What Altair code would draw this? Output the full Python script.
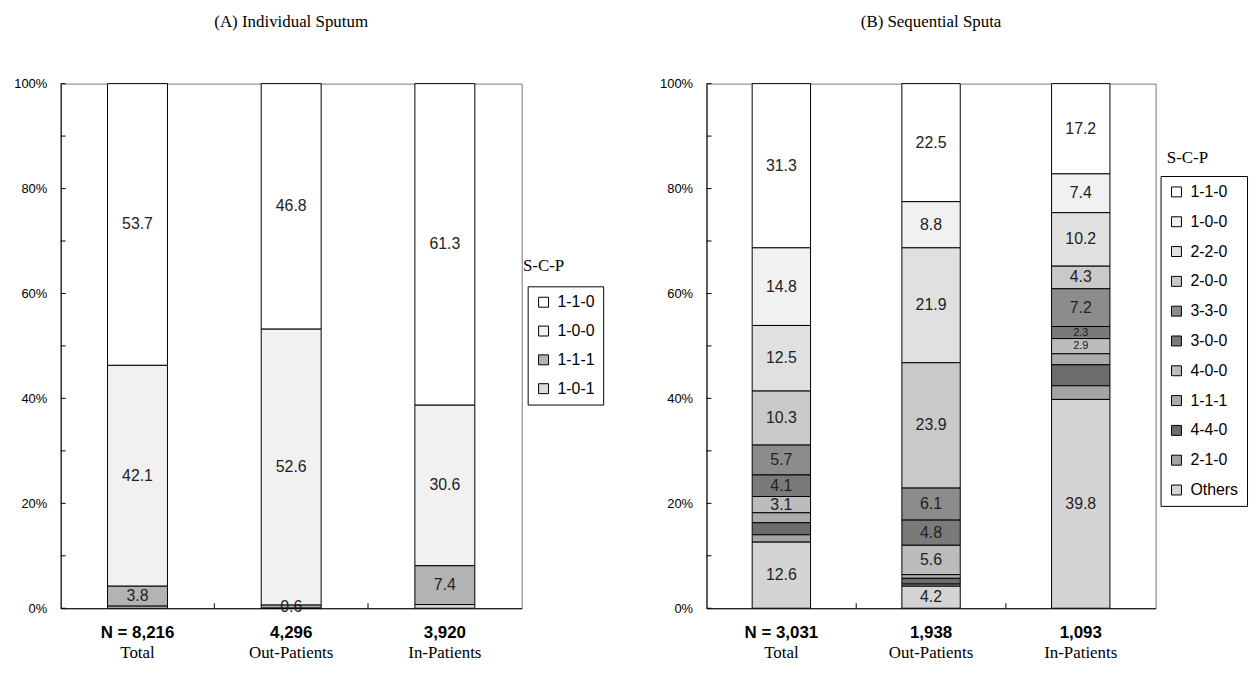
import json
import altair as alt
import pandas as pd

# ---------------- data ----------------
groups = ["Total", "Out-Patients", "In-Patients"]

n_a = ["N = 8,216", "4,296", "3,920"]
n_b = ["N = 3,031", "1,938", "1,093"]

cats_a = ["1-1-0", "1-0-0", "1-1-1", "1-0-1"]
a_total = [53.7, 42.1, 3.8, 0.4]
a_out = [46.8, 52.6, 0.6, 0.0]
a_in = [61.3, 30.6, 7.4, 0.7]

cats_b = ["1-1-0", "1-0-0", "2-2-0", "2-0-0", "3-3-0", "3-0-0",
          "4-0-0", "1-1-1", "4-4-0", "2-1-0", "Others"]
b_total = [31.3, 14.8, 12.5, 10.3, 5.7, 4.1, 3.1, 1.9, 2.3, 1.4, 12.6]
b_out = [22.5, 8.8, 21.9, 23.9, 6.1, 4.8, 5.6, 0.7, 1.1, 0.4, 4.2]
b_in = [17.2, 7.4, 10.2, 4.3, 7.2, 2.3, 2.9, 2.1, 4.0, 2.6, 39.8]

# segments left without a value label
nolabel_a = ["1-0-1"]
nolabel_b = ["1-1-1", "4-4-0", "2-1-0"]

ylabel_vals = [0, 20, 40, 60, 80, 100]
ytick_vals = [0, 10, 20, 30, 40, 50, 60, 70, 80, 90, 100]
legend_title = "S-C-P"

# ---------------- styles ----------------
greys_a = ["#ffffff", "#f1f1f1", "#b3b3b3", "#dcdcdc"]
greys_b = ["#ffffff", "#f1f1f1", "#e0e0e0", "#c9c9c9", "#8c8c8c", "#7a7a7a",
           "#bcbcbc", "#ababab", "#6c6c6c", "#a4a4a4", "#d4d4d4"]

SANS = "Liberation Sans"
SERIF = "Liberation Serif"


def long_table(cats, cols):
    rows = []
    for g, vals in zip(groups, cols):
        for i, (c, v) in enumerate(zip(cats, vals)):
            rows.append({"group": g, "cat": c, "val": v, "ord": i})
    return pd.DataFrame(rows)


def panel(title, cats, greys, cols, n_labels, nolabel, w, h,
          leg_x, leg_y, lt_x, lt_y, row_pad):
    table = long_table(cats, cols)
    xscale = alt.Scale(domain=groups, paddingInner=0, paddingOuter=0)
    yscale = alt.Scale(domain=[0, 100], nice=False, zero=True)
    xaxis = alt.Axis(title=None, labelAngle=0, ticks=False, domainColor="black",
                     labelFont=SERIF, labelFontSize=17, labelColor="black",
                     labelPadding=37, labelBaseline="top")
    yaxis = alt.Axis(title=None, values=ylabel_vals, labelExpr="datum.value + '%'",
                     ticks=False, grid=False, domainColor="black",
                     labelFont=SANS, labelFontSize=13, labelColor="black",
                     labelPadding=14)

    bars = alt.Chart(table).mark_bar(
        width=alt.RelativeBandSize(0.39), stroke="black", strokeWidth=1
    ).encode(
        x=alt.X("group:N", scale=xscale, axis=xaxis),
        y=alt.Y("val:Q", stack="zero", scale=yscale, axis=yaxis),
        color=alt.Color("cat:N", scale=alt.Scale(domain=cats, range=greys),
                        legend=alt.Legend(
                            title=None, orient="none", legendX=leg_x, legendY=leg_y,
                            strokeColor="black", fillColor="white", padding=8,
                            symbolType="square", symbolSize=100,
                            symbolStrokeColor="black", symbolStrokeWidth=1,
                            labelFont=SANS, labelFontSize=16, labelColor="black",
                            labelOffset=6, rowPadding=row_pad)),
        order=alt.Order("ord:Q", sort="descending"),
    )

    labels = alt.Chart(table).transform_stack(
        stack="val", groupby=["group"],
        sort=[alt.SortField("ord", order="descending")], as_=["y0", "y1"]
    ).transform_calculate(
        mid="(datum.y0 + datum.y1) / 2"
    ).transform_filter(
        f"indexof({json.dumps(nolabel)}, datum.cat) < 0 && datum.val > 0"
    ).mark_text(font=SANS, color="#222222", baseline="middle").encode(
        x=alt.X("group:N", scale=xscale, axis=xaxis),
        y=alt.Y("mid:Q", scale=yscale, axis=yaxis),
        text=alt.Text("val:Q", format=".1f"),
        size=alt.condition("datum.val < 3 && datum.val > 1", alt.value(11), alt.value(16)),
    )

    yticks = alt.Chart(pd.DataFrame({"t": ytick_vals})).mark_rule(
        color="black", strokeWidth=1
    ).encode(
        y=alt.Y("t:Q", scale=yscale, axis=yaxis),
        x=alt.value(0), x2=alt.value(5),
    )

    xticks = alt.Chart(pd.DataFrame({"group": groups[1:]})).mark_rule(
        color="black", strokeWidth=1
    ).encode(
        x=alt.X("group:N", scale=xscale, axis=xaxis, bandPosition=0),
        y=alt.value(h), y2=alt.value(h - 5),
    )

    nlab = alt.Chart(pd.DataFrame({"group": groups, "n": n_labels})).mark_text(
        font=SANS, fontSize=17, fontWeight="bold", color="black",
        baseline="middle"
    ).encode(
        x=alt.X("group:N", scale=xscale, axis=xaxis),
        y=alt.value(h + 25),
        text="n:N",
    )

    ltitle = alt.Chart(pd.DataFrame({"t": [legend_title]})).mark_text(
        font=SERIF, fontSize=17, color="black", align="center", baseline="middle"
    ).encode(
        x=alt.value(lt_x), y=alt.value(lt_y), text="t:N"
    )

    return alt.layer(bars, labels, yticks, xticks, nlab, ltitle).properties(
        width=w, height=h,
        title=alt.TitleParams(title, font=SERIF, fontSize=17, fontWeight="normal",
                              color="black", offset=47),
    )


H = 528
pa = panel("(A) Individual Sputum", cats_a, greys_a, [a_total, a_out, a_in], n_a,
           nolabel_a, 464, H, 470, 204, 486, 184, 13)
pb = panel("(B) Sequential Sputa", cats_b, greys_b, [b_total, b_out, b_in], n_b,
           nolabel_b, 452, H, 457, 93, 484, 75, 14)

chart = alt.hconcat(pa, pb, spacing=55).resolve_scale(
    x="independent", y="independent", color="independent"
).configure_view(
    stroke="#777777", strokeWidth=1
).properties(
    padding={"left": 5, "top": 2, "right": 2, "bottom": 0},
    background="white",
)

chart.save("out.html", embed_options={"renderer": "svg", "actions": False})
